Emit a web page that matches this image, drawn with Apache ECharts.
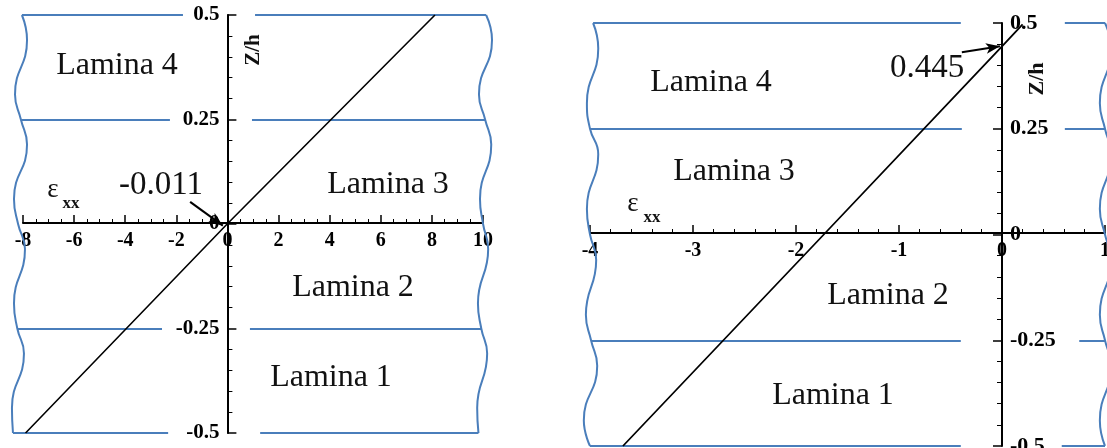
<!DOCTYPE html>
<html>
<head>
<meta charset="utf-8">
<script src="https://cdn.jsdelivr.net/npm/echarts@6/dist/echarts.min.js"></script>
<style>
  html, body { margin: 0; padding: 0; background: #fff; }
  #chart { width: 1107px; height: 448px; }
</style>
</head>
<body>
<div id="chart"></div>
<script>
// strain profile, left panel
const leftZ = [-0.5, 0, 0.5];
const leftStrain = [-7.9, -0.011, 8.12];
// strain profile, right panel
const rightZ = [-0.5, 0, 0.445, 0.497];
const rightStrain = [-3.68, -1.73, 0, 0.2];

// lamina boundaries (Z/h)
const bounds = [0.5, 0.25, -0.25, -0.5];
const laminaNames = ["Lamina 1", "Lamina 2", "Lamina 3", "Lamina 4"];

// wavy side borders (strain value at each Z/h point)
const waveZ = [0.5, 0.44, 0.31, 0.25, 0.19, 0.06, 0, -0.06, -0.19, -0.25, -0.31, -0.44, -0.5];
const leftWaveA = [-8.04, -7.84, -8.31, -8.08, -7.84, -8.35, -8.19, -7.92, -8.35, -8.22, -7.96, -8.43, -8.39];
const leftWaveB = [10.12, 10.35, 9.84, 10.08, 10.32, 9.88, 10.0, 10.2, 9.8, 9.93, 10.16, 9.77, 9.82];
const rightWaveA = [-3.97, -3.92, -4.03, -4.0, -3.92, -4.03, -4.0, -3.94, -4.04, -3.99, -3.93, -4.06, -4.0];
const rightWaveB = [1.0, 1.06, 0.95, 1.0, 1.06, 0.95, 1.0, 1.06, 0.95, 1.0, 1.06, 0.95, 1.0];

// where the boundary lines break around the Z/h tick labels
const leftGapL = [-1.74, -2.25, -2.56, -2.32];
const leftGapR = [1.08, 0.96, 0.88, 1.28];
const rightGapL = [-0.4, -0.39, -0.4, -0.4];
const rightGapR = [0.61, 0.61, 0.75, 0.58];

// annotations
const leftNote = { text: "-0.011", from: [-1.46, 0.053], to: [-0.18, -0.004] };
const rightNote = { text: "0.445", from: [-0.39, 0.431], to: [-0.02, 0.445] };

const blue = "#4a7ebb";
const serif = "'Liberation Serif', 'Times New Roman', serif";

function zip(xs, ys) {
  return xs.map((x, i) => [x, ys[i]]);
}

function boundaryLines(waveA, gapL, gapR, waveB) {
  const out = [];
  bounds.forEach((z, i) => {
    const k = waveZ.indexOf(z);
    out.push([{ coord: [waveA[k], z] }, { coord: [gapL[i], z] }]);
    out.push([{ coord: [gapR[i], z] }, { coord: [waveB[k], z] }]);
  });
  return out;
}

function arrow(note) {
  return {
    silent: true,
    symbol: ["none", "arrow"],
    symbolSize: [8, 14],
    label: { show: false },
    lineStyle: { color: "#000", width: 2, type: "solid" },
    data: [[{ coord: note.from }, { coord: note.to }]]
  };
}

function waveSeries(data, gi, lines) {
  const s = {
    type: "line",
    xAxisIndex: gi,
    yAxisIndex: gi,
    data: data,
    smooth: 0.5,
    showSymbol: false,
    symbol: "none",
    clip: false,
    silent: true,
    lineStyle: { color: blue, width: 2 }
  };
  if (lines) {
    s.markLine = {
      silent: true,
      symbol: ["none", "none"],
      label: { show: false },
      lineStyle: { color: blue, width: 2, type: "solid" },
      data: lines
    };
  }
  return s;
}

function xAxis(gi, min, max, interval, split, offset) {
  return {
    type: "value",
    gridIndex: gi,
    position: "bottom",
    offset: offset,
    min: min,
    max: max,
    interval: interval,
    splitLine: { show: false },
    axisLine: { onZero: false, lineStyle: { color: "#000", width: 2 } },
    axisTick: { inside: true, length: 8, lineStyle: { color: "#000", width: 1.5 } },
    minorTick: { show: true, splitNumber: split, length: 4, lineStyle: { color: "#000", width: 1 } },
    axisLabel: { color: "#000", fontFamily: serif, fontWeight: "bold", fontSize: 20, margin: 8 }
  };
}

function yAxis(gi, pos, offset, size) {
  return {
    type: "value",
    gridIndex: gi,
    position: pos,
    offset: offset,
    min: -0.5,
    max: 0.5,
    interval: 0.25,
    splitLine: { show: false },
    axisLine: { onZero: false, lineStyle: { color: "#000", width: 2 } },
    axisTick: { inside: true, length: 9, lineStyle: { color: "#000", width: 1.5 } },
    minorTick: { show: true, splitNumber: 5, length: 5, lineStyle: { color: "#000", width: 1 } },
    axisLabel: { color: "#000", fontFamily: serif, fontWeight: "bold", fontSize: size, margin: 8 }
  };
}

function hiddenAxis(gi, min, max) {
  return { type: "value", gridIndex: gi, min: min, max: max, show: false, splitLine: { show: false } };
}

function txt(x, y, text, size, extra) {
  return {
    type: "text",
    x: x,
    y: y,
    silent: true,
    rotation: extra && extra.rotation ? extra.rotation : 0,
    style: {
      text: text,
      fill: "#111",
      font: (extra && extra.bold ? "bold " : "") + size + "px " + serif,
      align: "center",
      verticalAlign: "middle"
    }
  };
}

const chart = echarts.init(document.getElementById("chart"));

chart.setOption({
  animation: false,
  backgroundColor: "#fff",
  grid: [
    { left: 23, top: 15, width: 460, height: 418, containLabel: false, outerBoundsMode: "none" },
    { left: 590, top: 23, width: 515, height: 423, containLabel: false, outerBoundsMode: "none" },
    // overlay grids (same scale, wider range) for the wavy borders
    { left: 7.6, top: 15, width: 490.8, height: 418, containLabel: false, outerBoundsMode: "none" },
    { left: 569.4, top: 23, width: 545.9, height: 423, containLabel: false, outerBoundsMode: "none" }
  ],
  xAxis: [
    xAxis(0, -8, 10, 2, 4, -210),
    xAxis(1, -4, 1, 1, 5, -213),
    hiddenAxis(2, -8.6, 10.6),
    hiddenAxis(3, -4.2, 1.1)
  ],
  yAxis: [
    yAxis(0, "left", -204.4, 21),
    yAxis(1, "right", -103, 22),
    hiddenAxis(2, -0.5, 0.5),
    hiddenAxis(3, -0.5, 0.5)
  ],
  series: [
    {
      type: "line",
      xAxisIndex: 0,
      yAxisIndex: 0,
      data: zip(leftStrain, leftZ),
      showSymbol: false,
      symbol: "none",
      z: 5,
      lineStyle: { color: "#000", width: 1.6 },
      markLine: arrow(leftNote)
    },
    waveSeries(zip(leftWaveA, waveZ), 2, boundaryLines(leftWaveA, leftGapL, leftGapR, leftWaveB)),
    waveSeries(zip(leftWaveB, waveZ), 2),
    {
      type: "line",
      xAxisIndex: 1,
      yAxisIndex: 1,
      data: zip(rightStrain, rightZ),
      showSymbol: false,
      symbol: "none",
      z: 5,
      lineStyle: { color: "#000", width: 1.8 },
      markLine: arrow(rightNote)
    },
    waveSeries(zip(rightWaveA, waveZ), 3, boundaryLines(rightWaveA, rightGapL, rightGapR, rightWaveB)),
    waveSeries(zip(rightWaveB, waveZ), 3)
  ],
  graphic: [
    // left panel
    txt(117, 66, laminaNames[3], 32),
    txt(388, 185, laminaNames[2], 32),
    txt(353, 288, laminaNames[1], 32),
    txt(331, 378, laminaNames[0], 32),
    txt(161, 185, leftNote.text, 33),
    txt(53, 190, "\u03b5", 27),
    txt(71, 204, "xx", 17, { bold: true }),
    txt(254, 50, "Z/h", 21, { bold: true, rotation: Math.PI / 2 }),
    // right panel
    txt(711, 83, laminaNames[3], 32),
    txt(734, 172, laminaNames[2], 32),
    txt(888, 296, laminaNames[1], 32),
    txt(833, 396, laminaNames[0], 32),
    txt(927, 68, rightNote.text, 33),
    txt(633, 204, "\u03b5", 27),
    txt(652, 218, "xx", 17, { bold: true }),
    txt(1037, 79, "Z/h", 22, { bold: true, rotation: Math.PI / 2 })
  ]
});
</script>
</body>
</html>
